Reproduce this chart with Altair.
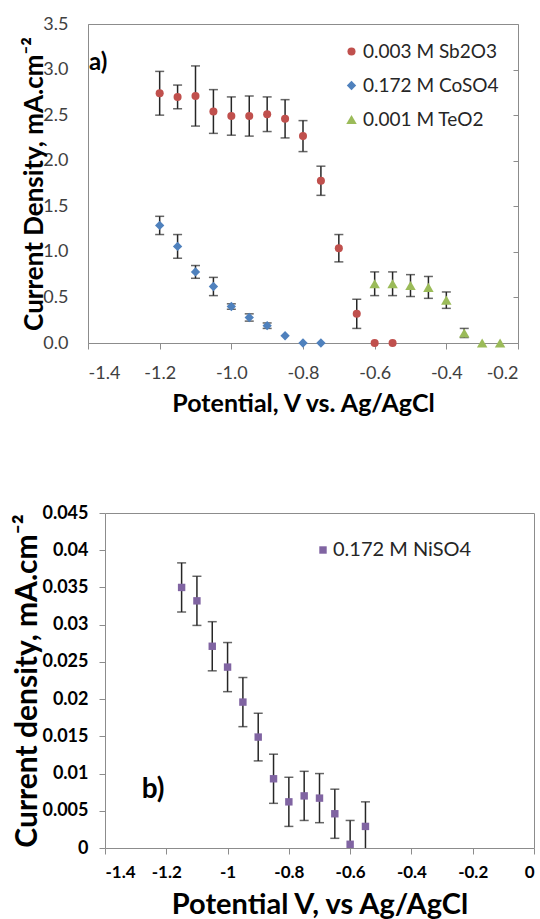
import altair as alt
import pandas as pd

FONT = "Lato"
GRAY = "#8c8c8c"
BAR = "#262626"

# ---------------- panel a) ----------------
series_a = ["0.003 M Sb2O3", "0.172 M CoSO4", "0.001 M TeO2"]
colors_a = ["#C0504D", "#4F81BD", "#9BBB59"]
shapes_a = ["circle", "diamond", "triangle-up"]

sb_x = [-1.2, -1.15, -1.1, -1.05, -1.0, -0.95, -0.9, -0.85, -0.8, -0.75, -0.7, -0.65, -0.6, -0.55]
sb_y = [2.74, 2.70, 2.71, 2.54, 2.49, 2.49, 2.51, 2.46, 2.27, 1.78, 1.04, 0.32, 0.0, 0.0]
sb_e = [0.24, 0.13, 0.33, 0.24, 0.21, 0.22, 0.19, 0.21, 0.17, 0.16, 0.15, 0.16, 0.0, 0.0]

co_x = [-1.2, -1.15, -1.1, -1.05, -1.0, -0.95, -0.9, -0.85, -0.8, -0.75]
co_y = [1.29, 1.06, 0.78, 0.62, 0.40, 0.28, 0.19, 0.08, 0.0, 0.0]
co_e = [0.10, 0.13, 0.07, 0.10, 0.03, 0.04, 0.03, 0.0, 0.0, 0.0]

te_x = [-0.6, -0.55, -0.5, -0.45, -0.4, -0.35, -0.3, -0.25]
te_y = [0.65, 0.65, 0.63, 0.61, 0.47, 0.11, 0.0, 0.0]
te_e = [0.13, 0.13, 0.12, 0.12, 0.09, 0.05, 0.0, 0.0]

xa_ticks = [-1.4, -1.2, -1.0, -0.8, -0.6, -0.4, -0.2]
ya_ticks = [0.0, 0.5, 1.0, 1.5, 2.0, 2.5, 3.0, 3.5]

# ---------------- panel b) ----------------
series_b = ["0.172 M NiSO4"]
colors_b = ["#8064A2"]
ni_x = [-1.15, -1.1, -1.05, -1.0, -0.95, -0.9, -0.85, -0.8, -0.75, -0.7, -0.65, -0.6, -0.55]
ni_y = [0.0350, 0.0332, 0.0271, 0.0243, 0.0196, 0.0149, 0.0093, 0.0062, 0.0070, 0.0067, 0.0046, 0.0005, 0.0029]
ni_e = [0.0033, 0.0033, 0.0033, 0.0033, 0.0033, 0.0032, 0.0033, 0.0033, 0.0033, 0.0033, 0.0033, 0.0032, 0.0033]

xb_ticks = [-1.4, -1.2, -1.0, -0.8, -0.6, -0.4, -0.2, 0.0]
yb_ticks = [0.0, 0.005, 0.01, 0.015, 0.02, 0.025, 0.03, 0.035, 0.04, 0.045]

MINUS_FIX = "replace(format(datum.value, '{f}'), '\u2212', '-')"

# ---------- build tables ----------
rows = []
for name, xs, ys, es in zip(series_a, [sb_x, co_x, te_x], [sb_y, co_y, te_y], [sb_e, co_e, te_e]):
    for x, y, e in zip(xs, ys, es):
        rows.append({"series": name, "x": x, "y": y, "e": e, "lo": y - e, "hi": y + e})
dfa = pd.DataFrame(rows)

rows = []
for x, y, e in zip(ni_x, ni_y, ni_e):
    rows.append({"nseries": series_b[0], "x": x, "y": y, "e": e, "lo": y - e, "hi": y + e})
dfb = pd.DataFrame(rows)

# ---------- panel a chart ----------
xsa = alt.Scale(domain=[-1.4, -0.2], nice=False, zero=False)
ysa = alt.Scale(domain=[0, 3.5], nice=False, zero=False)
xaxa = alt.Axis(values=xa_ticks, labelExpr=MINUS_FIX.format(f=".1f"), grid=False,
                domainColor=GRAY, tickColor=GRAY, tickSize=6, labelFont=FONT, labelFontSize=18,
                labelColor="#404040", labelPadding=15, title="Potential, V vs. Ag/AgCl",
                titleFont=FONT, titleFontSize=25, titleFontWeight="bold", titleColor="#000000",
                titlePadding=9)
yaxa = alt.Axis(values=ya_ticks, format=".1f", grid=False, ticks=False, domainColor=GRAY,
                labelFont=FONT, labelFontSize=18, labelColor="#404040", labelPadding=20,
                title="Current Density, mA.cm\u207b\u00b2", titleFont=FONT, titleFontSize=26,
                titleFontWeight="bold", titleColor="#000000", titlePadding=-5)
XA = alt.X("x:Q", scale=xsa, axis=xaxa)

base_a = alt.Chart(dfa)
rules_a = base_a.transform_filter("datum.e > 0").mark_rule(color=BAR, strokeWidth=1.5).encode(
    x=XA, y=alt.Y("lo:Q", scale=ysa, axis=yaxa), y2="hi:Q")
caps_a = base_a.transform_filter("datum.e > 0").transform_fold(["lo", "hi"], as_=["k", "cap"]).mark_tick(
    orient="horizontal", size=9, thickness=1.5, color=BAR).encode(
    x=XA, y=alt.Y("cap:Q", scale=ysa, axis=yaxa))
pts_a = base_a.mark_point(filled=True, opacity=1).encode(
    x=XA, y=alt.Y("y:Q", scale=ysa, axis=yaxa),
    color=alt.Color("series:N", scale=alt.Scale(domain=series_a, range=colors_a),
                    legend=alt.Legend(orient="none", legendX=254, legendY=18, title=None,
                                      labelFont=FONT, labelFontSize=19, labelColor="#262626",
                                      symbolSize=70, rowPadding=14, labelOffset=2)),
    shape=alt.Shape("series:N", scale=alt.Scale(domain=series_a, range=shapes_a)),
    size=alt.Size("series:N", scale=alt.Scale(domain=series_a, range=[65, 110, 100]), legend=None),
)
lab_a = alt.Chart(pd.DataFrame({"x": [-1.4], "y": [3.07], "t": ["a)"]})).mark_text(
    font=FONT, fontSize=24, fontWeight="bold", align="left", baseline="middle", dx=1, color="#000000"
).encode(x=XA, y=alt.Y("y:Q", scale=ysa, axis=yaxa), text="t:N")

right_a = base_a.mark_point(opacity=0).encode(
    x=XA, y=alt.Y("y:Q", scale=ysa, axis=alt.Axis(orient="right", values=ya_ticks, labels=False,
                                                  domain=False, ticks=True, tickSize=5,
                                                  tickColor=GRAY, offset=-5, grid=False, title=None)))

inner_a = alt.layer(rules_a, caps_a, pts_a, lab_a)
chart_a = alt.layer(inner_a, right_a).resolve_axis(y="independent").properties(width=430, height=319)

# ---------- panel b chart (plot area shifted 17 px right inside its group) ----------
xsb = alt.Scale(domain=[-1.4, 0.0], range=[17, 446], nice=False, zero=False)
ysb = alt.Scale(domain=[0, 0.045], nice=False, zero=False)
xaxb = alt.Axis(values=xb_ticks, labelExpr=MINUS_FIX.format(f=".1~f"), grid=False,
                domainColor=GRAY, tickColor=GRAY, tickSize=6, labelFont=FONT, labelFontSize=17,
                labelFontWeight="bold", labelColor="#000000", labelPadding=10,
                title="Potential V, vs Ag/AgCl", titleFont=FONT, titleFontSize=29,
                titleFontWeight="bold", titleColor="#000000", titlePadding=10)
yaxb = alt.Axis(values=yb_ticks, format=".3~f", grid=False, domainColor=GRAY, tickColor=GRAY,
                tickSize=6, labelFont=FONT, labelFontSize=18, labelFontWeight="bold",
                labelColor="#000000", labelPadding=11, offset=-17,
                title="Current density, mA.cm\u207b\u00b2", titleFont=FONT, titleFontSize=30,
                titleFontWeight="bold", titleColor="#000000", titlePadding=-1)
XB = alt.X("x:Q", scale=xsb, axis=xaxb)

base_b = alt.Chart(dfb)
rules_b = base_b.mark_rule(color=BAR, strokeWidth=1.5, clip=True).encode(
    x=XB, y=alt.Y("lo:Q", scale=ysb, axis=yaxb), y2="hi:Q")
caps_b = base_b.transform_fold(["lo", "hi"], as_=["k", "cap"]).mark_tick(
    orient="horizontal", size=9, thickness=1.5, color=BAR, clip=True).encode(
    x=XB, y=alt.Y("cap:Q", scale=ysb, axis=yaxb))
pts_b = base_b.mark_point(filled=True, opacity=1, shape="square", size=55).encode(
    x=XB, y=alt.Y("y:Q", scale=ysb, axis=yaxb),
    color=alt.Color("nseries:N", scale=alt.Scale(domain=series_b, range=colors_b),
                    legend=alt.Legend(orient="none", legendX=225, legendY=27, title=None,
                                      labelFont=FONT, labelFontSize=20, labelColor="#262626",
                                      symbolType="square", symbolSize=55, labelOffset=0)),
)
lab_b = alt.Chart(pd.DataFrame({"x": [-1.28], "y": [0.0078], "t": ["b)"]})).mark_text(
    font=FONT, fontSize=28, fontWeight="bold", align="left", baseline="middle", color="#000000"
).encode(x=XB, y=alt.Y("y:Q", scale=ysb, axis=yaxb), text="t:N")

border_b = base_b.mark_point(opacity=0).encode(
    x=alt.X("x:Q", scale=xsb, axis=alt.Axis(orient="top", labels=False, ticks=False, domain=True,
                                            domainColor=GRAY, grid=False, title=None)),
    y=alt.Y("y:Q", scale=ysb, axis=alt.Axis(orient="right", labels=False, ticks=False, domain=True,
                                            domainColor=GRAY, grid=False, title=None)))

inner_b = alt.layer(rules_b, caps_b, pts_b, lab_b)
chart_b = alt.layer(inner_b, border_b).resolve_axis(x="independent", y="independent").properties(
    width=446, height=335, view=alt.ViewBackground(stroke="transparent"))

chart = alt.vconcat(chart_a, chart_b, spacing=86).resolve_scale(
    color="independent", shape="independent", size="independent"
).resolve_legend(color="independent", shape="independent", size="independent").properties(
    padding={"left": 12, "top": 14, "right": 0, "bottom": 0},
    background="white",
).configure_view(stroke=GRAY, strokeWidth=1)

chart.save("out.html", embed_options={"renderer": "svg", "actions": False})
